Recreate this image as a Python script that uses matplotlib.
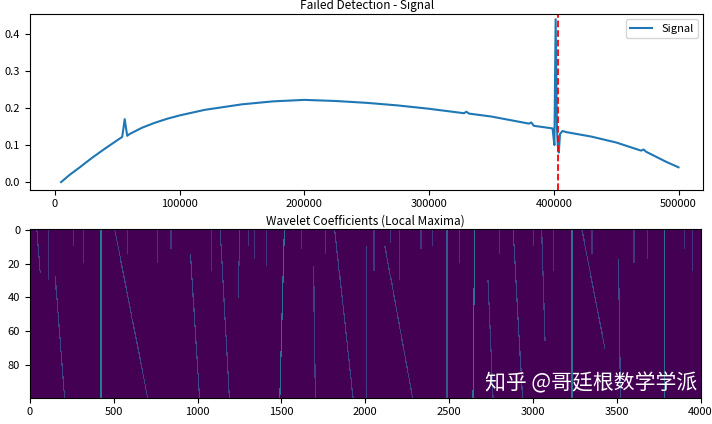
import numpy as np
import matplotlib.pyplot as plt

plt.rcParams['font.family'] = ['Noto Sans CJK SC', 'DejaVu Sans']
plt.rcParams['font.size'] = 8

# signal readouts (sample index, amplitude)
sig_x = [5000, 12000, 20000, 30000, 40000, 50000, 54000, 56000, 58000, 60000, 70000, 80000,
         90000, 100000, 120000, 150000, 175000, 200000, 225000, 250000, 275000, 300000,
         328000, 330000, 332000, 350000, 380000, 382000, 384000, 399000,
         400500, 401500, 402500, 403200, 404000, 405000, 407000, 410000, 430000, 450000,
         470000, 472000, 474000, 490000, 500000]
sig_y = [0.0, 0.02, 0.04, 0.066, 0.09, 0.113, 0.122, 0.17, 0.125, 0.13, 0.147, 0.16,
         0.171, 0.18, 0.195, 0.21, 0.218, 0.222, 0.219, 0.214, 0.207, 0.198,
         0.186, 0.19, 0.185, 0.177, 0.158, 0.161, 0.152, 0.145,
         0.10, 0.44, 0.15, 0.10, 0.08, 0.13, 0.138, 0.135, 0.123, 0.107,
         0.085, 0.088, 0.082, 0.055, 0.04]
event_x = 403000

# wavelet ridges: (column at top, column at bottom, first row, last row, intensity)
ridges = [
    (423, 423, 0, 99, 0.42), (150, 205, 28, 99, 0.2), (505, 700, 0, 99, 0.2),
    (956, 1010, 15, 99, 0.22), (1133, 1188, 0, 99, 0.2), (1516, 1489, 0, 99, 0.36),
    (1816, 1925, 0, 99, 0.2), (2007, 2007, 10, 99, 0.18), (2116, 2280, 10, 99, 0.2),
    (2485, 2485, 0, 99, 0.28), (2650, 2640, 0, 99, 0.38), (2880, 2935, 0, 99, 0.22),
    (3230, 3230, 0, 99, 0.38), (3290, 3426, 0, 70, 0.2), (3508, 3520, 18, 99, 0.22),
    (3781, 3781, 0, 99, 0.36), (1690, 1700, 22, 99, 0.18), (2730, 2760, 30, 99, 0.18),
    (3050, 3070, 0, 65, 0.18), (1250, 1240, 0, 40, 0.18), (40, 60, 0, 25, 0.18),
]
short_cols = [110, 260, 320, 580, 760, 840, 1080, 1300, 1340, 1410, 1620, 1760, 2050, 2150,
              2200, 2330, 2400, 2560, 2800, 3000, 3120, 3350, 3600, 3680, 3900, 3950]
short_lens = [30, 10, 20, 15, 20, 12, 25, 10, 18, 22, 12, 15, 25, 8, 30, 12, 10, 20, 15,
              10, 25, 15, 20, 18, 12, 25]

coef = np.zeros((100, 4000))
for c0, c1, r0, r1, v in ridges:
    for r in range(r0, r1 + 1):
        c = int(round(c0 + (c1 - c0) * (r - r0) / max(r1 - r0, 1)))
        coef[r, max(c - 3, 0):min(c + 4, 4000)] = v
for c, n in zip(short_cols, short_lens):
    coef[0:n, c - 3:c + 4] = 0.15

fig = plt.figure(figsize=(7.12, 4.24), dpi=100)
ax1 = fig.add_axes([0.042, 0.553, 0.946, 0.415])
ax2 = fig.add_axes([0.042, 0.062, 0.942, 0.398])

ax1.plot(sig_x, sig_y, color='#1f77b4', lw=1.5, label='Signal')
ax1.axvline(event_x, color='red', ls='--', lw=1.3)
ax1.set_xlim(-20000, 520000)
ax1.set_ylim(-0.02, 0.455)
ax1.set_title('Failed Detection - Signal', fontsize=8.5, pad=3)
ax1.legend(loc='upper right')

ax2.imshow(coef, aspect='auto', cmap='viridis', vmin=0, vmax=1, interpolation='nearest')
ax2.set_title('Wavelet Coefficients (Local Maxima)', fontsize=8.5, pad=3)
ax2.set_xticks(range(0, 4001, 500))
ax2.set_yticks([0, 20, 40, 60, 80])
ax2.text(0.995, 0.02, '知乎 @哥廷根数学学派', transform=ax2.transAxes, ha='right',
         va='bottom', color='white', fontsize=15)

fig.savefig('out.png', dpi=100)
